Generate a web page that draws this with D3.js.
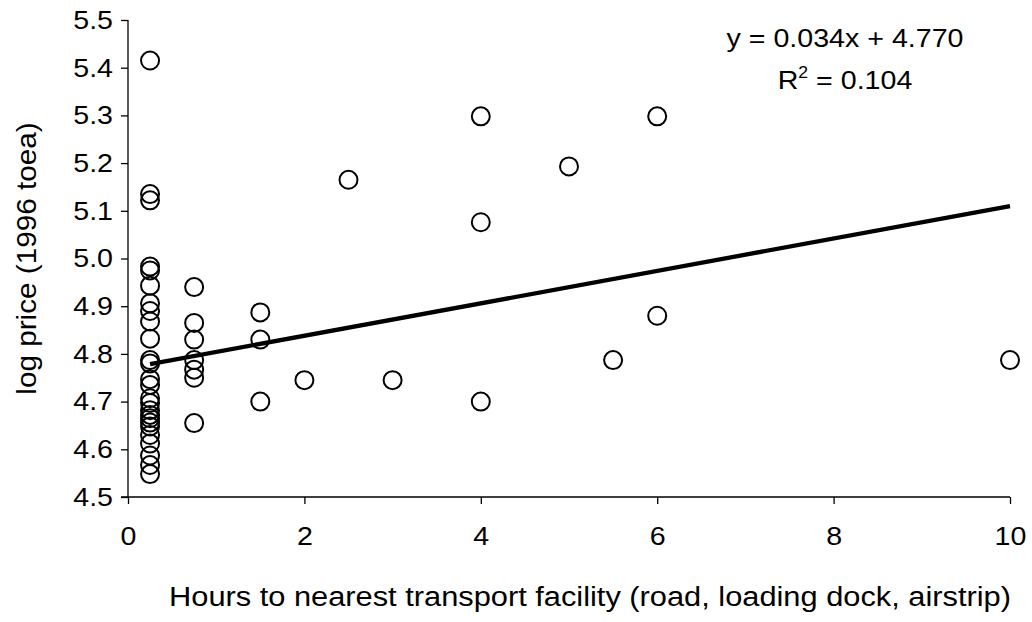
<!DOCTYPE html>
<html>
<head>
<meta charset="utf-8">
<script src="https://cdn.jsdelivr.net/npm/d3@7"></script>
<style>
  body { margin: 0; background: #fff; }
  text { font-family: "Liberation Sans", Arial, sans-serif; fill: #000; }
</style>
</head>
<body>
<div id="chart"></div>
<script>
// hours to transport facility and log price
const hours = [
  0.25, 0.25, 0.25, 0.25, 0.25, 0.25, 0.25, 0.25, 0.25, 0.25,
  0.25, 0.25, 0.25, 0.25, 0.25, 0.25, 0.25, 0.25, 0.25, 0.25,
  0.25, 0.25, 0.25, 0.25, 0.25, 0.25,
  0.75, 0.75, 0.75, 0.75, 0.75, 0.75, 0.75,
  1.5, 1.5, 1.5,
  2, 2.5, 3,
  4, 4, 4,
  5, 5.5, 6, 6, 10
];
const logPrice = [
  5.415, 5.135, 5.122, 4.983, 4.975, 4.943, 4.906, 4.89, 4.868, 4.832,
  4.787, 4.78, 4.747, 4.735, 4.707, 4.697, 4.682, 4.672, 4.665, 4.656,
  4.648, 4.63, 4.612, 4.587, 4.567, 4.548,
  4.94, 4.865, 4.83, 4.787, 4.767, 4.75, 4.655,
  4.887, 4.83, 4.70,
  4.745, 5.165, 4.745,
  5.298, 5.076, 4.70,
  5.193, 4.787, 5.298, 4.88, 4.787
];
const xTicks = [0, 2, 4, 6, 8, 10];
const yTicks = [4.5, 4.6, 4.7, 4.8, 4.9, 5.0, 5.1, 5.2, 5.3, 5.4, 5.5];
const slope = 0.034, intercept = 4.770;
const trendRange = [0.25, 10];

const margin = { top: 20, right: 22, bottom: 125, left: 128 },
      width = 1032 - margin.left - margin.right,
      height = 622 - margin.top - margin.bottom;
const stretch = 1.1; // the text in the picture is a bit wide

const svg = d3.select("#chart")
    .append("svg")
    .attr("width", 1032)
    .attr("height", 622)
    .append("g")
    .attr("transform", `translate(${margin.left},${margin.top})`);

const x = d3.scaleLinear().domain([0, 10]).range([0, width]);
const y = d3.scaleLinear().domain([4.5, 5.5]).range([height, 0]);

const xAxis = svg.append("g")
    .attr("transform", `translate(0,${height})`)
    .call(d3.axisBottom(x).tickValues(xTicks).tickSize(7).tickPadding(23).tickFormat(d3.format("d")));
const yAxis = svg.append("g")
    .call(d3.axisLeft(y).tickValues(yTicks).tickSize(7).tickPadding(8).tickFormat(d3.format(".1f")));

[xAxis, yAxis].forEach(a => {
    a.select(".domain").attr("stroke", "#000").attr("stroke-width", 1.3);
    a.selectAll(".tick line").attr("stroke", "#000").attr("stroke-width", 1.3);
    a.selectAll(".tick text")
        .style("font-size", "26px")
        .style("font-family", "Liberation Sans, Arial, sans-serif");
});
xAxis.selectAll(".tick text").attr("transform", `scale(${stretch},1)`);
yAxis.selectAll(".tick text")
    .attr("x", 0)
    .attr("transform", `translate(-15,0) scale(${stretch},1)`);
// the x domain starts at the end of the y tick
xAxis.select(".domain").attr("d", `M-7,0H${width}`);
yAxis.select(".domain").attr("d", `M0,0V${height}`);

// trend line
const trend = trendRange.map(h => ({ h, p: slope * h + intercept }));
svg.append("path")
    .datum(trend)
    .attr("d", d3.line().x(d => x(d.h)).y(d => y(d.p)))
    .attr("fill", "none")
    .attr("stroke", "#000")
    .attr("stroke-width", 4.3);

// points
svg.selectAll("circle.pt")
    .data(hours.map((h, i) => ({ h, p: logPrice[i] })))
    .enter()
    .append("circle")
    .attr("class", "pt")
    .attr("cx", d => x(d.h))
    .attr("cy", d => y(d.p))
    .attr("r", 9)
    .attr("fill", "none")
    .attr("stroke", "#000")
    .attr("stroke-width", 2);

// equation
svg.append("text")
    .attr("transform", `translate(717,27) scale(${stretch},1)`)
    .attr("text-anchor", "middle")
    .style("font-size", "26px")
    .text("y = 0.034x + 4.770");
const r2 = svg.append("text")
    .attr("transform", `translate(717,69) scale(${stretch},1)`)
    .attr("text-anchor", "middle")
    .style("font-size", "26px");
r2.append("tspan").text("R");
r2.append("tspan").attr("dy", -11).style("font-size", "16px").text("2");
r2.append("tspan").attr("dy", 11).text(" = 0.104");

svg.append("text")
    .attr("transform", `translate(${width / 2 + 21},${height + 109}) scale(${stretch},1)`)
    .attr("text-anchor", "middle")
    .style("font-size", "28px")
    .text("Hours to nearest transport facility (road, loading dock, airstrip)");

svg.append("text")
    .attr("transform", `translate(-92,${height / 2}) rotate(-90) scale(${stretch},1)`)
    .attr("text-anchor", "middle")
    .style("font-size", "27px")
    .text("log price (1996 toea)");
</script>
</body>
</html>
